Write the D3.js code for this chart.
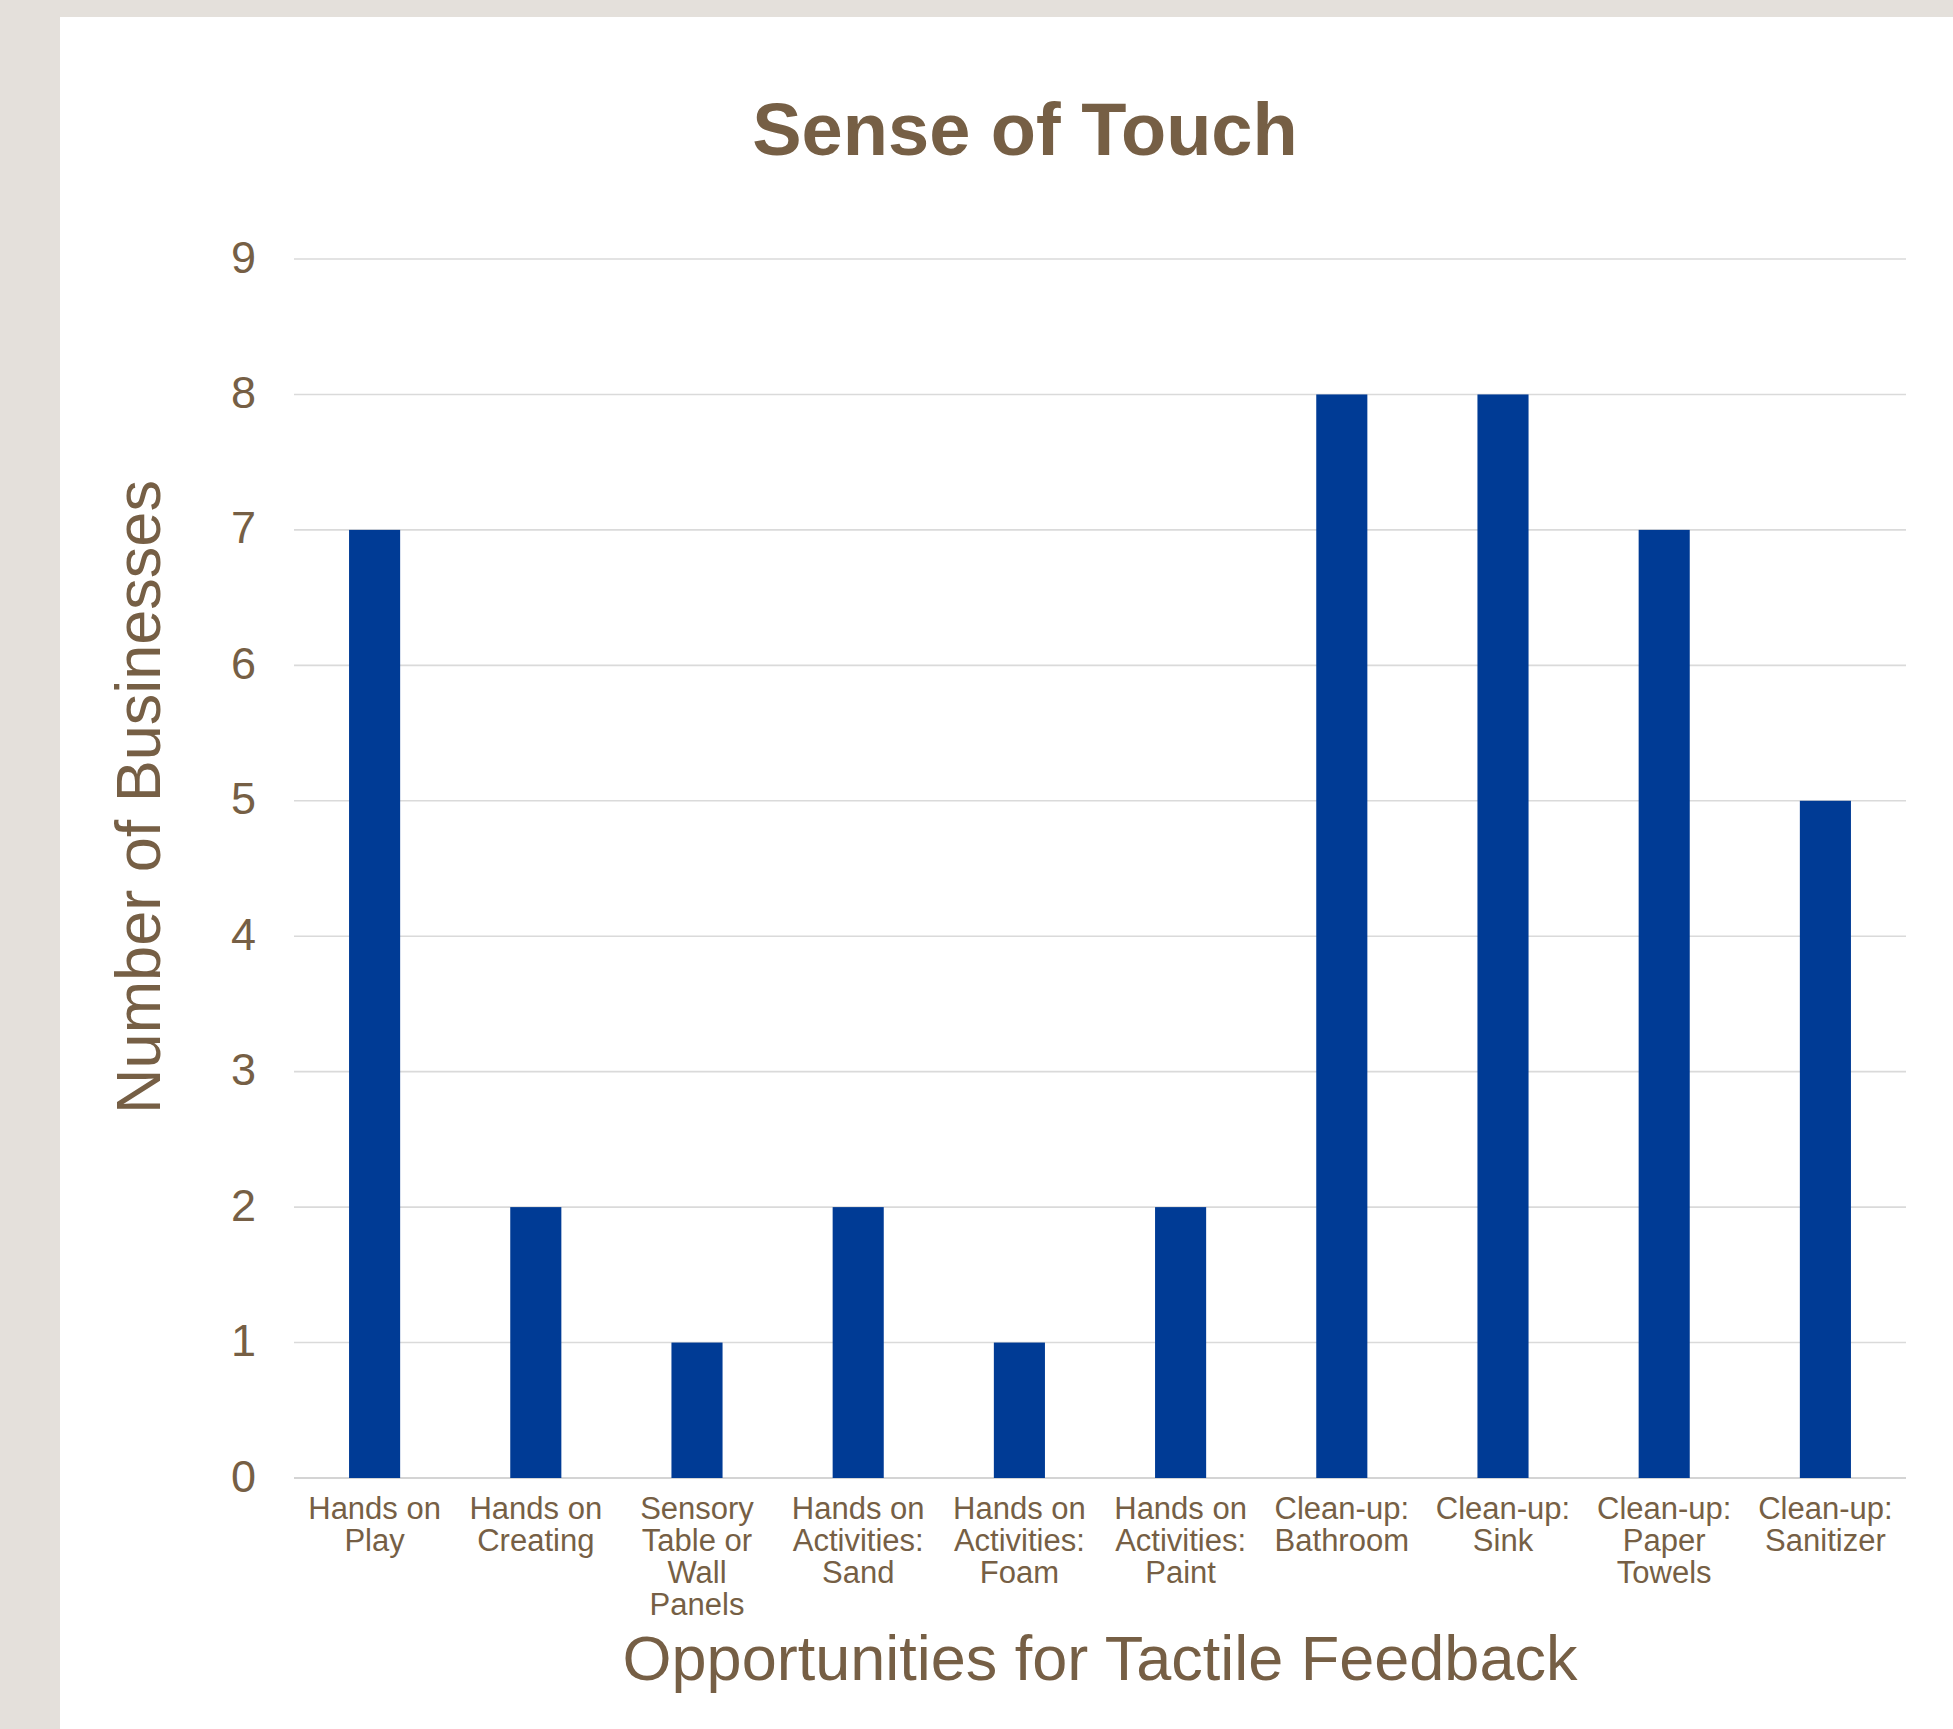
<!DOCTYPE html>
<html>
<head>
<meta charset="utf-8">
<script src="https://cdn.jsdelivr.net/npm/d3@7"></script>
<style>
  html, body { margin: 0; padding: 0; background: #e4e0db; }
  svg { display: block; }
  text { font-family: "Liberation Sans", Arial, Helvetica, sans-serif; fill: #765f45; }
</style>
</head>
<body>
<svg id="chart" width="1953" height="1729"></svg>
<script>
// Survey counts: businesses offering each tactile-feedback opportunity
const categories = [
  "Hands on Play",
  "Hands on Creating",
  "Sensory Table or Wall Panels",
  "Hands on Activities: Sand",
  "Hands on Activities: Foam",
  "Hands on Activities: Paint",
  "Clean-up: Bathroom",
  "Clean-up: Sink",
  "Clean-up: Paper Towels",
  "Clean-up: Sanitizer"
];
const businesses = [7, 2, 1, 2, 1, 2, 8, 8, 7, 5];
const yTicks = [0, 1, 2, 3, 4, 5, 6, 7, 8, 9];

const chartTitle = "Sense of Touch";
const xTitle = "Opportunities for Tactile Feedback";
const yTitle = "Number of Businesses";

const W = 1953, H = 1729;
const plot = { left: 294, right: 1906, top: 259, bottom: 1478 };
const brown = "#765f45";
const barBlue = "#003b95";

const svg = d3.select("#chart");

// white card over the warm grey page
svg.append("rect")
  .attr("x", 60).attr("y", 17)
  .attr("width", W - 60).attr("height", H - 17)
  .attr("fill", "#ffffff");

const x = d3.scaleBand()
  .domain(categories)
  .range([plot.left, plot.right])
  .paddingInner(0.683)
  .paddingOuter(0.3415);

const y = d3.scaleLinear()
  .domain([0, 9])
  .range([plot.bottom, plot.top]);

// horizontal gridlines
svg.append("g")
  .selectAll("line")
  .data(yTicks)
  .join("line")
  .attr("x1", plot.left).attr("x2", plot.right)
  .attr("y1", d => y(d)).attr("y2", d => y(d))
  .attr("stroke", d => d === 0 ? "#d4d4d4" : "#dadada")
  .attr("stroke-width", d => d === 0 ? 2 : 1.6);

// y axis labels
const yAxis = svg.append("g")
  .attr("transform", `translate(${plot.left - 38},0)`)
  .call(d3.axisLeft(y).tickValues(yTicks).tickSize(0).tickPadding(0).tickFormat(d3.format("d")));
yAxis.select(".domain").remove();
yAxis.selectAll("text")
  .attr("x", 0)
  .attr("dy", "0.29em")
  .style("font-size", "45px")
  .attr("fill", brown);

// bars
svg.append("g")
  .selectAll("rect")
  .data(categories.map((c, i) => ({ c, v: businesses[i] })))
  .join("rect")
  .attr("x", d => x(d.c))
  .attr("y", d => y(d.v))
  .attr("width", x.bandwidth())
  .attr("height", d => y(0) - y(d.v))
  .attr("fill", barBlue);

// x axis category labels, wrapped to the band step
const xAxis = svg.append("g")
  .attr("transform", `translate(0,${plot.bottom})`)
  .call(d3.axisBottom(x).tickSize(0).tickPadding(0));
xAxis.select(".domain").remove();

const maxLabelWidth = x.step() * 0.95;
xAxis.selectAll(".tick text")
  .style("font-size", "31px")
  .attr("fill", brown)
  .each(function(d) {
    const t = d3.select(this);
    const words = d.split(" ");
    t.text(null);
    const lines = [];
    let line = [];
    const probe = t.append("tspan");
    for (const w of words) {
      line.push(w);
      probe.text(line.join(" "));
      if (probe.node().getComputedTextLength() > maxLabelWidth && line.length > 1) {
        line.pop();
        lines.push(line.join(" "));
        line = [w];
      }
    }
    lines.push(line.join(" "));
    probe.remove();
    t.attr("y", 0).attr("dy", null);
    lines.forEach((l, i) => {
      t.append("tspan")
        .attr("x", 0)
        .attr("y", 41 + i * 32)
        .text(l);
    });
  });

// chart title
svg.append("text")
  .attr("x", 1025).attr("y", 155)
  .attr("text-anchor", "middle")
  .style("font-size", "74px")
  .style("font-weight", "bold")
  .attr("fill", brown)
  .text(chartTitle);

// x axis title
svg.append("text")
  .attr("x", (plot.left + plot.right) / 2).attr("y", 1680)
  .attr("text-anchor", "middle")
  .style("font-size", "63px")
  .attr("fill", brown)
  .text(xTitle);

// y axis title
svg.append("text")
  .attr("transform", "translate(160,797) rotate(-90)")
  .attr("text-anchor", "middle")
  .style("font-size", "63px")
  .attr("fill", brown)
  .text(yTitle);
</script>
</body>
</html>
